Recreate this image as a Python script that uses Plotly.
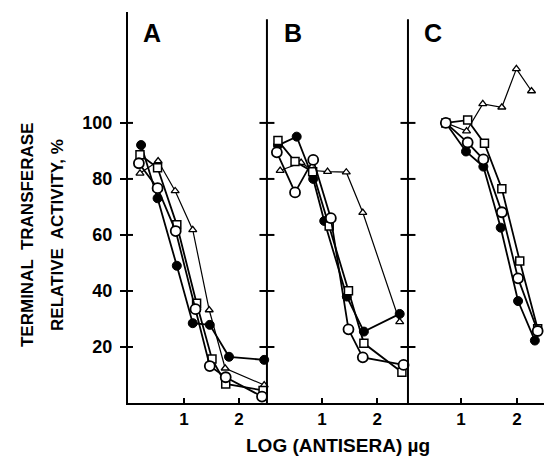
import plotly.graph_objects as go

# ---------------- data (log antisera µg, relative activity %) ----------------
# Panel A
A_fill_x = [0.22, 0.52, 0.87, 1.16, 1.47, 1.82, 2.46]
A_fill_y = [92.1, 73.1, 49.0, 28.5, 27.9, 16.5, 15.4]
A_open_x = [0.18, 0.52, 0.85, 1.21, 1.47, 1.76, 2.42]
A_open_y = [85.6, 76.7, 61.4, 33.5, 13.2, 9.2, 2.3]
A_sq_x = [0.20, 0.52, 0.87, 1.23, 1.51, 1.76, 2.44]
A_sq_y = [88.6, 84.0, 63.6, 35.6, 15.7, 6.8, 4.5]
A_tri_x = [0.20, 0.53, 0.84, 1.16, 1.46, 1.75, 2.46]
A_tri_y = [82.0, 86.4, 75.7, 61.8, 33.2, 12.4, 6.4]

# Panel B
B_fill_x = [0.20, 0.54, 0.84, 1.04, 1.45, 1.76, 2.41]
B_fill_y = [92.0, 95.1, 80.0, 65.0, 38.0, 25.5, 31.8]
B_open_x = [0.18, 0.51, 0.84, 1.16, 1.48, 1.74, 2.48]
B_open_y = [89.5, 75.2, 86.8, 66.0, 26.3, 16.3, 13.6]
B_sq_x = [0.20, 0.51, 0.83, 1.13, 1.48, 1.76, 2.45]
B_sq_y = [93.7, 86.2, 82.6, 63.2, 40.1, 21.3, 11.0]
B_tri_x = [0.24, 0.62, 0.84, 1.10, 1.44, 1.74, 2.41]
B_tri_y = [83.0, 85.8, 83.0, 82.6, 82.4, 68.0, 29.0]

# Panel C
C_fill_x = [0.73, 1.09, 1.40, 1.71, 2.02, 2.32]
C_fill_y = [100.0, 89.8, 84.4, 62.6, 36.4, 22.3]
C_open_x = [0.73, 1.12, 1.40, 1.73, 2.02, 2.37]
C_open_y = [100.0, 93.0, 87.0, 68.1, 44.5, 25.7]
C_sq_x = [0.73, 1.12, 1.42, 1.73, 2.05, 2.37]
C_sq_y = [100.0, 101.0, 92.7, 76.5, 50.7, 26.5]
C_tri_x = [0.73, 1.10, 1.39, 1.73, 1.99, 2.26]
C_tri_y = [100.0, 97.1, 106.8, 105.6, 119.3, 111.4]

panel_labels = ["A", "B", "C"]
y_ticks = [20, 40, 60, 80, 100]
x_ticks = [1, 2]
x_ticktext = ["1", "2"]

# ---------------- figure ----------------
FONT = "Liberation Sans, Arial, sans-serif"
BLK = "black"

styles = {
    "fill": dict(symbol="circle", size=9, color=BLK, line=dict(color=BLK, width=1)),
    "open": dict(symbol="circle", size=10, color="white", line=dict(color=BLK, width=1.8)),
    "sq": dict(symbol="square", size=8, color="white", line=dict(color=BLK, width=1.5)),
    "tri": dict(symbol="triangle-up", size=7, color="white", line=dict(color=BLK, width=1.3)),
}

panels = [
    ("x", [("tri", A_tri_x, A_tri_y), ("fill", A_fill_x, A_fill_y),
           ("sq", A_sq_x, A_sq_y), ("open", A_open_x, A_open_y)]),
    ("x2", [("tri", B_tri_x, B_tri_y), ("fill", B_fill_x, B_fill_y),
            ("sq", B_sq_x, B_sq_y), ("open", B_open_x, B_open_y)]),
    ("x3", [("tri", C_tri_x, C_tri_y), ("fill", C_fill_x, C_fill_y),
            ("sq", C_sq_x, C_sq_y), ("open", C_open_x, C_open_y)]),
]

fig = go.Figure()
for xa, series in panels:
    for kind, xs, ys in series:
        lw = 1.2 if kind == "tri" else 1.8
        fig.add_trace(go.Scatter(
            x=xs, y=ys, xaxis=xa, yaxis="y", mode="lines+markers",
            line=dict(color=BLK, width=lw), marker=styles[kind],
            showlegend=False, cliponaxis=False,
        ))

d1, d2 = 0.334, 0.673
xaxis_common = dict(
    showline=True, linecolor=BLK, linewidth=2, mirror=False,
    ticks="inside", ticklen=5, tickwidth=2, tickcolor=BLK,
    tickvals=x_ticks, ticktext=x_ticktext, showgrid=False, zeroline=False,
    tickfont=dict(family=FONT, size=17, color=BLK, weight="bold"),
    anchor="y", ticklabelstandoff=0,
)

fig.update_layout(
    width=544, height=459,
    margin=dict(l=128, r=0, t=12, b=56),
    paper_bgcolor="white", plot_bgcolor="white",
    xaxis=dict(domain=[0, d1], range=[-0.018, 2.51], **xaxis_common),
    xaxis2=dict(domain=[d1, d2], range=[0.0, 2.56], **xaxis_common),
    xaxis3=dict(domain=[d2, 1], range=[0.054, 2.483], **xaxis_common),
    yaxis=dict(
        range=[0, 139.6], showline=True, linecolor=BLK, linewidth=2,
        ticks="outside", ticklen=6, tickwidth=2, tickcolor=BLK,
        tickvals=y_ticks, showgrid=False, zeroline=False, anchor="x",
        tickfont=dict(family=FONT, size=18, color=BLK, weight="bold"),
        ticklabelstandoff=4,
    ),
)

shapes = []
for xd in (d1, d2):
    shapes.append(dict(type="line", xref="paper", yref="y", x0=xd, x1=xd,
                       y0=0, y1=137, line=dict(color=BLK, width=2)))
    for v in y_ticks:
        shapes.append(dict(type="line", xref="paper", yref="y",
                           x0=xd - 0.018, x1=xd + 0.018, y0=v, y1=v,
                           line=dict(color=BLK, width=2)))
for v in y_ticks:
    shapes.append(dict(type="line", xref="paper", yref="y",
                       x0=0, x1=0.012, y0=v, y1=v, line=dict(color=BLK, width=2)))
fig.update_layout(shapes=shapes)

annos = []
for lab, xa, xv in zip(panel_labels, ["x", "x2", "x3"], [0.42, 0.47, 0.5]):
    annos.append(dict(text=lab, xref=xa, yref="y", x=xv, y=132, showarrow=False,
                      font=dict(family=FONT, size=25, color=BLK, weight="bold"),
                      xanchor="center", yanchor="middle"))
annos.append(dict(text="TERMINAL  TRANSFERASE", xref="paper", yref="paper",
                  x=-0.24, y=0.43, textangle=-90, showarrow=False,
                  font=dict(family=FONT, size=17, color=BLK, weight="bold"),
                  xanchor="center", yanchor="middle"))
annos.append(dict(text="RELATIVE  ACTIVITY, %", xref="paper", yref="paper",
                  x=-0.168, y=0.43, textangle=-90, showarrow=False,
                  font=dict(family=FONT, size=17, color=BLK, weight="bold"),
                  xanchor="center", yanchor="middle"))
annos.append(dict(text="LOG (ANTISERA) µg", xref="paper", yref="paper",
                  x=0.505, y=-0.109, showarrow=False,
                  font=dict(family=FONT, size=19, color=BLK, weight="bold"),
                  xanchor="center", yanchor="middle"))
fig.update_layout(annotations=annos)

fig.write_html(
    "out.html",
    config={"displayModeBar": False},
    post_script="document.body.style.margin='0px';document.body.style.overflow='hidden';",
)
